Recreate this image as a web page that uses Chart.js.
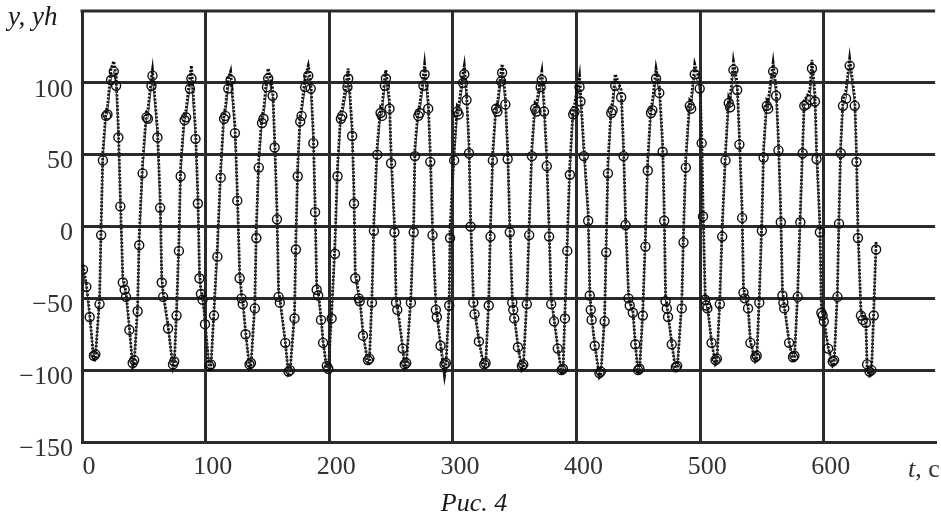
<!DOCTYPE html>
<html><head><meta charset="utf-8">
<script src="https://cdn.jsdelivr.net/npm/chart.js@4.4.1/dist/chart.umd.min.js"></script>
<style>html,body{margin:0;padding:0;background:#fff;}canvas{display:block;}</style>
</head><body>
<canvas id="c" width="941" height="518"></canvas>
<script>
// time, s
const t = [
 0.8,3.5,6.2,9.6,10.8,
 14.2,15.5,16.9,19.5,20.6,23.5,25.7,27.6,29.4,31.0,33.0,34.5,35.6,38.3,41.0,42.2,
 45.0,46.3,49.0,52.2,53.3,56.2,57.0,61.0,63.2,64.5,65.6,69.6,73.6,74.6,
 76.5,78.4,79.8,83.0,84.2,87.3,88.5,91.8,93.7,95.0,96.2,97.5,99.5,103.0,104.2,
 106.8,109.5,112.2,114.9,116.0,118.3,120.2,123.7,125.6,127.5,129.0,130.0,132.3,135.5,136.6,
 139.8,141.0,143.0,145.6,146.8,149.6,150.6,154.2,155.8,157.7,159.0,160.0,164.4,167.0,168.2,
 171.9,173.0,174.5,176.5,177.6,180.5,183.0,185.0,187.1,188.5,189.8,191.0,193.3,195.0,198.0,199.2,
 201.9,204.6,206.7,209.4,210.5,214.7,215.3,218.5,220.0,221.0,223.8,224.6,227.3,231.3,232.4,
 234.5,236.1,238.8,241.5,242.6,245.0,245.8,248.7,250.0,252.7,254.0,255.0,259.4,261.0,262.2,
 266.0,268.3,269.3,272.0,273.1,276.2,277.1,280.0,281.7,283.5,286.2,287.0,290.0,293.2,294.3,
 297.0,297.7,301.0,303.6,304.6,308.2,309.2,311.0,313.0,314.3,316.5,317.5,321.0,325.3,326.4,
 329.0,330.4,332.3,335.0,336.0,339.0,339.8,342.4,344.3,346.0,348.0,348.8,349.6,352.6,355.8,356.9,
 359.8,361.7,363.9,366.5,367.6,371.0,371.9,373.7,375.9,377.8,379.5,381.8,384.8,387.9,389.0,
 390.6,392.5,394.6,397.3,398.4,402.4,403.2,405.9,409.4,410.7,411.5,412.2,414.7,418.5,419.6,
 422.7,424.0,425.4,428.1,429.2,431.3,436.1,438.0,439.6,442.0,443.0,445.5,447.5,449.8,450.9,
 453.6,455.7,457.6,460.2,461.3,464.3,466.9,469.6,470.9,472.0,473.0,474.0,477.0,480.3,481.4,
 485.1,486.5,488.4,491.6,492.7,495.6,499.6,501.2,502.3,504.0,504.8,505.8,509.2,512.4,513.5,
 515.9,517.8,520.5,523.1,524.2,526.9,529.9,531.7,533.9,535.0,536.0,538.7,540.6,544.6,545.7,
 547.8,549.9,551.3,553.9,555.0,559.0,561.4,563.3,565.2,566.5,567.3,568.0,571.9,575.1,576.2,
 578.9,581.0,582.9,584.2,586.0,588.8,590.4,592.8,594.1,596.8,598.0,599.0,600.0,603.5,607.2,608.3,
 611.0,612.3,613.7,615.5,618.0,620.9,625.0,626.4,627.6,630.0,631.5,634.0,635.0,637.0,638.5,640.4,642.3
];
// measured y (circles)
const y = [
 -30,-42,-63,-90,-89,
 -54,-6,46,77,78,102,108,98,62,14,-39,-44,-49,-72,-95,-93,
 -59,-13,37,76,75,98,105,62,13,-39,-49,-71,-96,-94,
 -62,-17,35,74,76,96,103,61,16,-36,-47,-51,-68,-97,-96,
 -62,-21,34,75,77,96,102,65,18,-36,-50,-54,-75,-96,-95,
 -57,-8,41,72,75,97,103,91,55,5,-49,-53,-81,-101,-100,
 -64,-16,35,73,77,97,105,96,58,10,-44,-48,-65,-81,-97,-99,
 -64,-19,35,75,77,97,103,63,16,-36,-50,-52,-76,-93,-92,
 -53,-3,50,79,77,98,103,82,44,-4,-53,-58,-85,-96,-95,
 -53,-4,49,77,79,98,106,82,45,-6,-58,-63,-83,-96,-95,
 -55,-8,46,80,78,100,106,88,51,0,-53,-61,-80,-96,-95,
 -55,-7,46,82,80,101,107,85,47,-4,-53,-58,-64,-84,-97,-96,
 -54,-6,49,82,80,97,102,80,42,-7,-54,-66,-85,-100,-99,
 -64,-17,36,78,80,97,87,49,4,-48,-58,-65,-83,-102,-101,
 -66,-18,37,79,81,98,90,49,1,-50,-55,-60,-82,-100,-99,
 -62,-14,39,79,81,103,93,52,4,-52,-57,-63,-82,-98,-97,
 -57,-11,41,84,82,106,96,58,7,-51,-55,-57,-81,-93,-92,
 -54,-7,46,86,83,109,95,57,6,-46,-50,-57,-81,-91,-90,
 -53,-3,48,84,82,108,91,53,3,-48,-53,-57,-81,-91,-90,
 -49,3,51,84,85,88,110,87,47,-4,-60,-62,-66,-85,-94,-93,
 -49,2,51,84,89,112,84,45,-8,-62,-65,-67,-96,-101,-100,-62,-16
];
// model yh (dotted line)
const yh = [
 -27,-40,-61,-94,-92,
 -50,2,52,81,83,110,115,104,68,20,-35,-41,-46,-70,-98,-96,
 -55,-6,44,80,81,104,109,68,19,-35,-46,-69,-99,-97,
 -58,-10,42,79,81,104,112,67,22,-32,-44,-48,-66,-100,-99,
 -58,-14,40,80,82,103,108,70,24,-32,-47,-51,-73,-99,-98,
 -53,-1,47,78,80,105,110,96,61,11,-45,-50,-80,-103,-102,
 -60,-9,42,78,82,104,112,101,64,16,-40,-45,-63,-80,-100,-101,
 -60,-12,42,80,82,106,110,68,22,-32,-47,-49,-74,-96,-95,
 -49,4,56,83,82,105,109,87,50,2,-49,-55,-84,-99,-98,
 -49,3,55,82,84,106,113,87,51,0,-54,-60,-82,-104,-98,
 -51,-1,52,84,83,107,112,93,57,6,-49,-58,-79,-99,-98,
 -51,0,52,86,85,108,113,90,53,2,-49,-55,-62,-83,-100,-99,
 -50,1,55,86,85,104,108,85,48,-1,-50,-64,-84,-103,-102,
 -60,-10,43,83,85,105,93,55,10,-44,-55,-63,-82,-105,-104,
 -62,-11,44,84,86,106,95,55,7,-46,-52,-58,-81,-103,-102,
 -58,-7,46,84,86,110,98,58,10,-48,-54,-61,-81,-101,-100,
 -53,-4,48,88,87,113,101,64,13,-47,-52,-55,-80,-96,-95,
 -50,0,52,90,88,115,100,63,12,-42,-47,-55,-80,-94,-93,
 -49,4,54,88,87,114,96,59,9,-44,-50,-55,-80,-94,-93,
 -45,10,57,88,90,95,116,92,53,2,-56,-59,-64,-84,-97,-96,
 -45,9,57,88,95,117,89,51,-2,-58,-62,-65,-98,-104,-103,-58,-10
];
const xTicks = [0,100,200,300,400,500,600];
const yTicks = [-150,-100,-50,0,50,100];
const xAxisName = ['t', ', c'];
const yAxisName = 'y, yh';
const caption = 'Рис. 4';

const serif = "'Liberation Serif','Times New Roman',serif";
const gridCol = '#2b2b2b';
const n = Math.min(t.length, y.length, yh.length);
const toPts = arr => t.slice(0, n).map((tv, i) => ({x: tv, y: arr[i]}));

const decor = {
  id: 'decor',
  beforeDatasetsDraw(chart) {
    const {ctx, chartArea: a} = chart;
    ctx.save();
    ctx.strokeStyle = gridCol; ctx.lineWidth = 3;
    ctx.beginPath(); ctx.moveTo(a.left - 1.5, a.top); ctx.lineTo(a.right, a.top); ctx.stroke();
    ctx.restore();
  },
  afterDraw(chart) {
    const ctx = chart.ctx;
    ctx.save();
    ctx.fillStyle = '#1a1a1a';
    ctx.textBaseline = 'alphabetic';
    ctx.textAlign = 'left';
    ctx.font = 'italic 27px ' + serif;
    ctx.fillText(yAxisName, 8, 25);
    ctx.fillStyle = '#333';
    ctx.font = 'italic 26px ' + serif;
    ctx.fillText(xAxisName[0], 908, 477);
    const w = ctx.measureText(xAxisName[0]).width;
    ctx.font = '26px ' + serif;
    ctx.fillText(xAxisName[1], 908 + w, 477);
    ctx.fillStyle = '#1a1a1a';
    ctx.font = 'italic 26px ' + serif;
    ctx.textAlign = 'center';
    ctx.fillText(caption, 474, 511);
    ctx.restore();
  }
};

new Chart(document.getElementById('c'), {
  type: 'line',
  data: {
    datasets: [
      {label: 'yh', data: toPts(yh), borderColor: '#0d0d0d', borderWidth: 2.8, borderDash: [2.2, 1.4],
       pointRadius: 0, fill: false, tension: 0, order: 2},
      {label: 'y', data: toPts(y), borderColor: '#333', borderWidth: 1, pointRadius: 4.5,
       pointBorderColor: '#0d0d0d', pointBackgroundColor: 'rgba(0,0,0,0)', pointBorderWidth: 1.4,
       fill: false, tension: 0, order: 1}
    ]
  },
  options: {
    responsive: false, animation: false, devicePixelRatio: 1,
    layout: {padding: {top: 11, left: 0, right: 0, bottom: 0}},
    plugins: {legend: {display: false}, tooltip: {enabled: false}},
    scales: {
      x: {
        type: 'linear', min: 0, max: 690,
        afterBuildTicks: s => { s.ticks = xTicks.map(v => ({value: v})); },
        afterFit: s => { s.height = 76; s.paddingLeft = 0; s.paddingRight = 0; },
        grid: {color: gridCol, lineWidth: 3, drawTicks: false},
        border: {display: true, color: gridCol, width: 3},
        ticks: {font: {family: serif, size: 26}, color: '#333', padding: 10, labelOffset: 7,
                maxRotation: 0, autoSkip: false}
      },
      y: {
        type: 'linear', min: -150, max: 150,
        afterBuildTicks: s => { s.ticks = yTicks.map(v => ({value: v})); },
        afterFit: s => { s.width = 82; s.paddingTop = 0; s.paddingBottom = 0; },
        grid: {color: gridCol, lineWidth: 3, drawTicks: false},
        border: {display: true, color: gridCol, width: 3},
        ticks: {font: {family: serif, size: 26}, color: '#333', padding: 9, labelOffset: 7,
                autoSkip: false, callback: v => String(v).replace('-', '\u2212')}
      }
    }
  },
  plugins: [decor]
});
</script>
</body></html>
